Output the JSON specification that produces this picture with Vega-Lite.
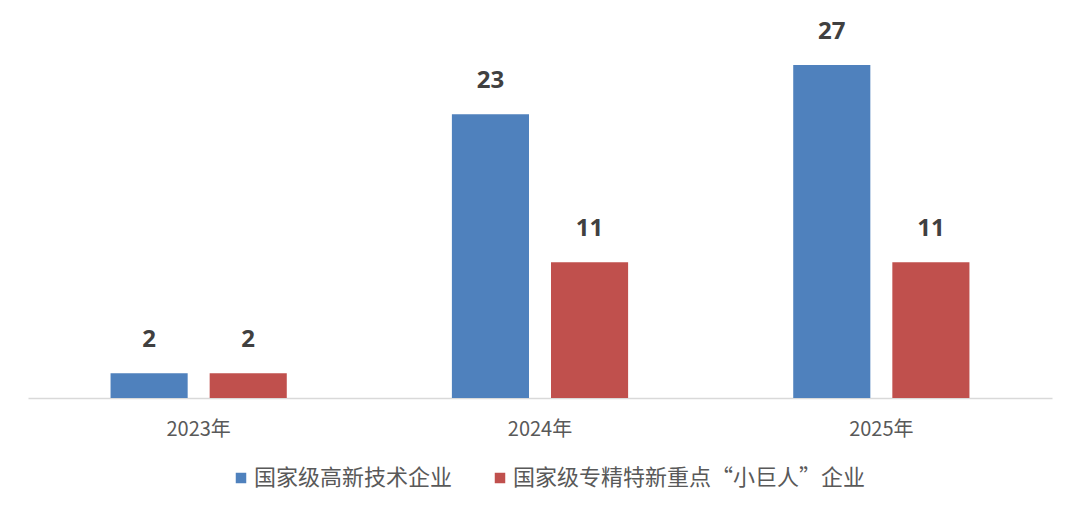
{
  "$schema": "https://vega.github.io/schema/vega-lite/v6.json",
  "width": 1024,
  "height": 370,
  "autosize": {"type": "none"},
  "padding": {"left": 28, "top": 28, "right": 28, "bottom": 119},
  "background": "white",
  "config": {"view": {"stroke": null}, "font": "Noto Sans CJK SC"},
  "data": {"values": [
    {"year": "2023年", "series": "国家级高新技术企业", "value": 2},
    {"year": "2023年", "series": "国家级专精特新重点“小巨人”企业", "value": 2},
    {"year": "2024年", "series": "国家级高新技术企业", "value": 23},
    {"year": "2024年", "series": "国家级专精特新重点“小巨人”企业", "value": 11},
    {"year": "2025年", "series": "国家级高新技术企业", "value": 27},
    {"year": "2025年", "series": "国家级专精特新重点“小巨人”企业", "value": 11}
  ]},
  "encoding": {
    "x": {"field": "year", "type": "nominal", "sort": null,
      "scale": {"paddingInner": 0, "paddingOuter": 0},
      "axis": {"title": null, "labelAngle": 0, "ticks": false, "domainColor": "#d9d9d9", "domainWidth": 1.5,
        "labelFontSize": 20, "labelColor": "#595959", "labelPadding": 21, "labelFont": "Noto Sans CJK SC"}},
    "xOffset": {"field": "series", "type": "nominal", "sort": null,
      "scale": {"paddingInner": 0.222, "paddingOuter": 0.833}},
    "y": {"field": "value", "type": "quantitative", "scale": {"domain": [0, 30]}, "axis": null}
  },
  "layer": [
    {
      "mark": {"type": "bar"},
      "encoding": {
        "color": {"field": "series", "type": "nominal", "sort": null,
          "scale": {"range": ["#4F81BD", "#C0504D"]},
          "legend": {"title": null, "orient": "none", "direction": "horizontal", "legendX": 202, "legendY": 439,
            "symbolType": "square", "symbolSize": 110, "symbolStrokeWidth": 0, "labelFontSize": 22, "labelColor": "#595959",
            "labelFont": "Noto Sans CJK SC", "labelLimit": 0, "columnPadding": 36, "labelOffset": 2}}
      }
    },
    {
      "mark": {"type": "text", "baseline": "middle", "dy": -33, "fontSize": 24, "fontWeight": "bold", "color": "#404040", "font": "Noto Sans"},
      "encoding": {"text": {"field": "value", "type": "quantitative"}}
    }
  ]
}
